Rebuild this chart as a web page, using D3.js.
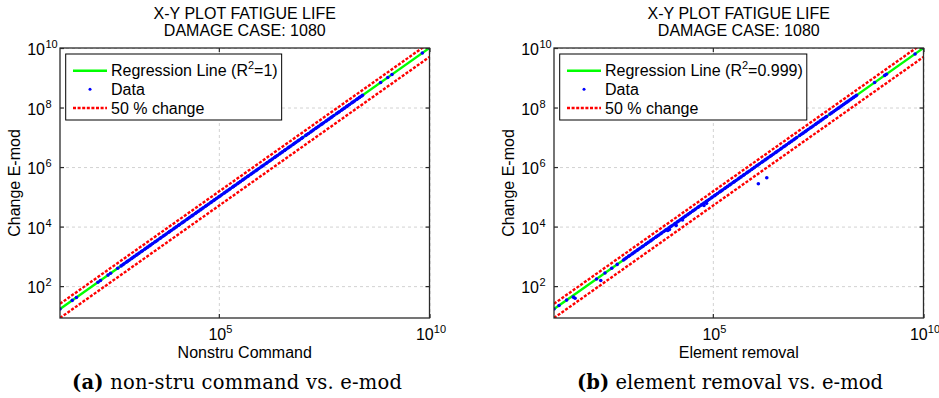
<!DOCTYPE html>
<html>
<head lang="en">
    <meta charset="UTF-8">
    <title>X-Y plot fatigue life</title>
    <script src="https://cdn.jsdelivr.net/npm/d3@7/dist/d3.min.js"></script>
    <style>
        body{margin:0;background:#fff;}
        svg{display:block;font-family:"Liberation Sans",Arial,sans-serif;}
        .grid line{stroke:#d2d2d2;stroke-dasharray:3,3;}
        .grid path,.ticks path{display:none;}
        .ticks line{stroke:#2b2b2b;stroke-width:1.2px;}
        .box{fill:none;stroke:#2b2b2b;stroke-width:1.3px;}
        .lbl{font-size:16px;fill:#000;}
        .cap{font-family:"DejaVu Serif",serif;font-size:19.5px;fill:#000;}
    </style>
</head>
<body>
<script>
    var titleLines=["X-Y PLOT FATIGUE LIFE","DAMAGE CASE: 1080"];
    var xTickExp=[5,10];
    var yTickExp=[2,4,6,8,10];
    var legendNames=["Regression Line","Data","50 % change"];
    var r2Values=["1","0.999"];
    var xLabels=["Nonstru Command","Element removal"];
    var yLabel="Change E-mod";
    var captionTags=["(a)","(b)"];
    var captionTexts=[" non-stru command vs. e-mod"," element removal vs. e-mod"];
    var bandFactors=[1.5,0.5];

    //log10 of fatigue life, panel a: every point sits on y = x
    var nonstruLog=[1.23,1.52,1.62,2.13,2.19,2.37,2.43,2.60,2.68,
        2.72,2.75,2.80,2.83,2.87,2.92,2.95,2.99,3.04,3.07,3.11,3.16,3.19,3.24,3.27,3.31,3.36,3.39,3.43,3.48,
        3.51,3.55,3.60,3.63,3.68,3.71,3.75,3.80,3.83,3.87,3.92,3.95,3.99,4.04,4.07,4.12,4.15,4.19,4.24,4.27,
        4.31,4.36,4.39,4.44,4.47,4.51,4.56,4.59,4.63,4.68,4.71,4.75,4.80,4.83,4.88,4.91,4.95,5.00,5.03,5.07,
        5.12,5.15,5.19,5.24,5.27,5.32,5.35,5.39,5.44,5.47,5.51,5.56,5.59,5.63,5.68,5.71,5.76,5.79,5.83,5.88,
        5.91,5.95,6.00,6.03,6.07,6.12,6.15,6.20,6.23,6.27,6.32,6.35,6.39,6.44,6.47,6.51,6.56,6.59,6.64,6.67,
        6.71,6.76,6.79,6.83,6.88,6.91,6.96,6.99,7.06,7.09,7.13,7.18,7.21,7.25,7.30,7.33,7.37,7.42,7.45,7.49,
        7.54,7.57,7.61,7.66,7.69,7.73,7.79,7.83,7.86,7.91,7.94,7.98,8.03,8.06,8.10,8.15,8.18,8.22,8.27,8.30,
        8.34,8.38,8.41,8.84,9.01,9.11,9.83,10.0];

    //log10 of fatigue life, panel b: points on y = x ...
    var elemOnLog=[1.23,1.35,1.53,2.24,2.44,2.60,2.73,
        2.88,2.91,2.95,3.00,3.03,3.08,3.11,3.15,3.20,3.23,3.27,3.32,3.35,3.40,3.43,3.47,3.52,3.55,3.59,3.64,
        3.67,3.71,3.76,3.79,3.84,3.88,3.91,3.96,4.00,4.03,4.08,4.11,4.16,4.19,4.23,4.27,4.31,4.35,4.40,4.43,
        4.47,4.52,4.55,4.59,4.64,4.67,4.72,4.75,4.79,4.84,4.87,4.91,4.96,4.99,5.04,5.07,5.11,5.16,5.19,5.23,
        5.28,5.31,5.35,5.40,5.43,5.48,5.51,5.55,5.60,5.63,5.67,5.72,5.75,5.80,5.83,5.87,5.92,5.95,5.99,6.04,
        6.07,6.11,6.16,6.19,6.24,6.27,6.31,6.36,6.39,6.43,6.48,6.51,6.55,6.60,6.63,6.68,6.71,6.75,6.80,6.83,
        6.87,6.92,6.95,6.99,7.06,7.10,7.14,7.19,7.22,7.26,7.31,7.34,7.38,7.43,7.46,7.50,7.55,7.58,7.62,7.67,
        7.70,7.78,7.82,7.86,7.90,7.94,7.98,8.02,8.06,8.10,8.14,8.18,8.22,8.26,8.30,8.34,8.38,8.41,
        8.84,9.08,9.12,9.80,10.0];
    //... and the few that fall below it [x, y]
    var elemOffLog=[[1.69,1.63],[1.73,1.59],[2.34,2.19],[3.93,3.87],[3.97,3.90],[4.13,4.04],[4.28,4.22],
        [4.79,4.71],[4.85,4.78],[6.08,5.44],[6.28,5.64]];

    var panelData=[
        nonstruLog.map(function(v){return [Math.pow(10,v),Math.pow(10,v)];}),
        elemOnLog.map(function(v){return [Math.pow(10,v),Math.pow(10,v)];})
            .concat(elemOffLog.map(function(p){return [Math.pow(10,p[0]),Math.pow(10,p[1])];}))
    ];
    var axLeft=[60,554],axWidth=369.5,axTop=48,axBottom=318;
    var capX=[72,577],capEnd=[402,883];

    var svg=d3.select("body").append("svg").attr("width",939).attr("height",398);

    panelData.forEach(function(data,i){
        renderPanel(i,data);
    });

    function renderPanel(i,data){
        var L=axLeft[i],R=L+axWidth;
        var xmin=d3.min(data,function(d){return d[0];});
        var xmax=d3.max(data,function(d){return d[0];});
        var x=d3.scaleLog().domain([xmin,xmax]).range([L,R]);
        var y=d3.scaleLog().domain([xmin*bandFactors[1],xmax]).range([axBottom,axTop]);
        var g=svg.append("g");
        var xt=xTickExp.map(function(e){return Math.pow(10,e);});
        var yt=yTickExp.map(function(e){return Math.pow(10,e);});

        //grid
        g.append("g").attr("class","grid").attr("transform","translate(0,"+axBottom+")")
            .call(d3.axisBottom(x).tickValues(xt).tickSize(-(axBottom-axTop)).tickFormat(""));
        g.append("g").attr("class","grid").attr("transform","translate("+L+",0)")
            .call(d3.axisLeft(y).tickValues(yt).tickSize(-axWidth).tickFormat(""));

        //clip
        var cid="clip"+i;
        g.append("clipPath").attr("id",cid).append("rect")
            .attr("x",L).attr("y",axTop).attr("width",axWidth).attr("height",axBottom-axTop);
        var plot=g.append("g").attr("clip-path","url(#"+cid+")");

        var line=d3.line().x(function(d){return x(d[0]);}).y(function(d){return y(d[1]);});
        plot.append("path").datum([[xmin,xmin],[xmax,xmax]]).attr("d",line)
            .style("stroke","#00ff00").style("stroke-width",2.4).style("fill","none");
        plot.selectAll("circle").data(data).enter().append("circle")
            .attr("cx",function(d){return x(d[0]);})
            .attr("cy",function(d){return y(d[1]);})
            .attr("r",1.8).style("fill","#0000ff");
        bandFactors.forEach(function(f){
            plot.append("path").datum([[xmin,xmin*f],[xmax,xmax*f]]).attr("d",line)
                .style("stroke","#ff0000").style("stroke-width",2.4).style("stroke-dasharray","3,1.6")
                .style("fill","none");
        });

        //ticks (inward on all four sides)
        g.append("g").attr("class","ticks").attr("transform","translate(0,"+axBottom+")")
            .call(d3.axisBottom(x).tickValues(xt).tickSize(-4).tickFormat(""));
        g.append("g").attr("class","ticks").attr("transform","translate(0,"+axTop+")")
            .call(d3.axisTop(x).tickValues(xt).tickSize(-4).tickFormat(""));
        g.append("g").attr("class","ticks").attr("transform","translate("+L+",0)")
            .call(d3.axisLeft(y).tickValues(yt).tickSize(-4).tickFormat(""));
        g.append("g").attr("class","ticks").attr("transform","translate("+R+",0)")
            .call(d3.axisRight(y).tickValues(yt).tickSize(-4).tickFormat(""));
        g.append("rect").attr("class","box").attr("x",L).attr("y",axTop)
            .attr("width",axWidth).attr("height",axBottom-axTop);

        //tick labels
        xTickExp.forEach(function(e){
            var t=g.append("text").attr("class","lbl").attr("x",x(Math.pow(10,e))+1.5).attr("y",axBottom+22)
                .attr("text-anchor","middle");
            t.append("tspan").text("10");
            t.append("tspan").attr("dy",-7).style("font-size","11px").text(e);
        });
        yTickExp.forEach(function(e){
            var yy=y(Math.pow(10,e));
            g.append("text").attr("class","lbl").attr("x",L-15).attr("y",yy+7)
                .attr("text-anchor","end").text("10");
            g.append("text").attr("class","lbl").attr("x",L-14.5).attr("y",yy)
                .style("font-size","11px").text(e);
        });

        //titles and labels
        var cx=(L+R)/2;
        titleLines.forEach(function(s,k){
            g.append("text").attr("class","lbl").attr("x",cx).attr("y",18.5+k*17.5)
                .attr("text-anchor","middle").text(s);
        });
        g.append("text").attr("class","lbl").attr("x",cx).attr("y",357.5)
            .attr("text-anchor","middle").text(xLabels[i]);
        g.append("text").attr("class","lbl").attr("transform","translate("+(L-40.5)+","+((axTop+axBottom)/2)+") rotate(-90)")
            .attr("text-anchor","middle").text(yLabel);

        //legend
        var lg=g.append("g");
        var box=lg.append("rect").attr("x",L+5.7).attr("y",54).attr("height",66)
            .style("fill","#fff").style("stroke","#000").style("stroke-width",1);
        var rows=[70.7,89.3,108];
        var t0=lg.append("text").attr("class","lbl").attr("x",L+51).attr("y",rows[0]+5.5);
        t0.append("tspan").text(legendNames[0]+" (R");
        t0.append("tspan").attr("dy",-7).style("font-size","11px").text("2");
        t0.append("tspan").attr("dy",7).text("="+r2Values[i]+")");
        lg.append("text").attr("class","lbl").attr("x",L+51).attr("y",rows[1]+5.5).text(legendNames[1]);
        lg.append("text").attr("class","lbl").attr("x",L+51).attr("y",rows[2]+5.5).text(legendNames[2]);
        lg.append("line").attr("x1",L+13).attr("x2",L+47).attr("y1",rows[0]).attr("y2",rows[0])
            .style("stroke","#00ff00").style("stroke-width",2.4);
        lg.append("circle").attr("cx",L+30).attr("cy",rows[1]).attr("r",1.5).style("fill","#0000ff");
        lg.append("line").attr("x1",L+13).attr("x2",L+47).attr("y1",rows[2]).attr("y2",rows[2])
            .style("stroke","#ff0000").style("stroke-width",2.4).style("stroke-dasharray","3,1.6");
        box.attr("width",51+t0.node().getComputedTextLength()+4-5.7);

        //caption, stretched to the width it has in the figure
        var c=g.append("text").attr("class","cap").attr("x",capX[i]).attr("y",389)
            .attr("textLength",capEnd[i]-capX[i]).attr("lengthAdjust","spacing");
        c.append("tspan").style("font-weight","bold").text(captionTags[i]);
        c.append("tspan").text(captionTexts[i]);
    }
</script>
</body>
</html>
